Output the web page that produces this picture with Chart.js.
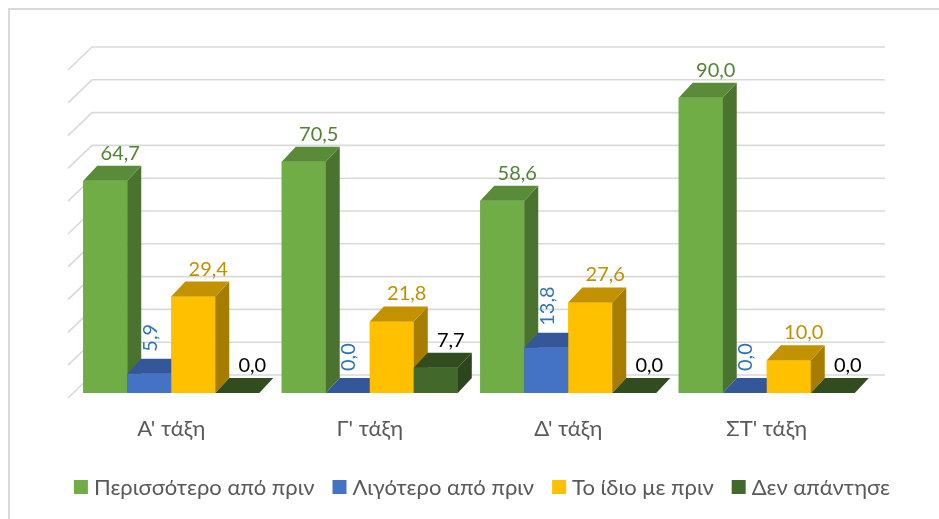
<!DOCTYPE html>
<html>
<head>
<meta charset="utf-8">
<script src="https://cdn.jsdelivr.net/npm/chart.js@4.4.1/dist/chart.umd.min.js"></script>
<style>
  body { margin: 0; background: #fff; }
  canvas { display: block; }
</style>
</head>
<body>
<canvas id="chart" width="939" height="519"></canvas>
<script>
// Τάξεις (κατηγορίες)
const categories = ["Α' τάξη", "Γ' τάξη", "Δ' τάξη", "ΣΤ' τάξη"];

// Τιμές σειρών (%)
const more = [64.7, 70.5, 58.6, 90.0];
const less = [5.9, 0.0, 13.8, 0.0];
const same = [29.4, 21.8, 27.6, 10.0];
const noAnswer = [0.0, 7.7, 0.0, 0.0];

const seriesNames = ['Περισσότερο από πριν', 'Λιγότερο από πριν', 'Το ίδιο με πριν', 'Δεν απάντησε'];

// Άξονας τιμών
const yTicks = [0, 10, 20, 30, 40, 50, 60, 70, 80, 90, 100];

// Χρώματα: μπροστά, πλάι, πάνω, ετικέτα
const frontColors = ['#70AD47', '#4472C4', '#FFC000', '#43682B'];
const sideColors  = ['#4B7330', '#2E4F8A', '#A67D00', '#2C451C'];
const topColors   = ['#5A8B38', '#34579A', '#C39200', '#314D1F'];
const labelColors = ['#548235', '#2E75B6', '#BF9000', '#000000'];
const rotatedLabel = [false, true, false, false];

const FONT = 'Lato, "Open Sans", sans-serif';
const DX = 14, DY = 15;           // βάθος μπάρας
const WALL_DX = 20, WALL_DY = 18; // πίσω τοίχος

function fmt(v) {
    return v.toFixed(1).replace('.', ',');
}

function poly(ctx, pts, color) {
    ctx.beginPath();
    ctx.moveTo(pts[0][0], pts[0][1]);
    for (let k = 1; k < pts.length; k++) ctx.lineTo(pts[k][0], pts[k][1]);
    ctx.closePath();
    ctx.fillStyle = color;
    ctx.fill();
}

const frame3d = {
    id: 'frame3d',
    beforeDraw(chart) {
        const ctx = chart.ctx;
        ctx.save();
        ctx.strokeStyle = '#D9D9D9';
        ctx.lineWidth = 2;
        ctx.strokeRect(9, 9, 940, 520);
        ctx.restore();
    },
    beforeDatasetsDraw(chart) {
        // Γραμμές πλέγματος στον πίσω τοίχο
        const ctx = chart.ctx;
        const area = chart.chartArea;
        const yScale = chart.scales.y;
        ctx.save();
        ctx.strokeStyle = '#D9D9D9';
        ctx.lineWidth = 1.6;
        for (const v of yTicks) {
            const yb = yScale.getPixelForValue(v) - WALL_DY;
            ctx.beginPath();
            ctx.moveTo(area.left - 4, yb + 23);
            ctx.lineTo(area.left + WALL_DX, yb);
            ctx.lineTo(area.right + 19, yb);
            ctx.stroke();
        }
        ctx.restore();
    },
    afterDatasetsDraw(chart) {
        const ctx = chart.ctx;
        const nSets = chart.data.datasets.length;
        ctx.save();
        // Μπάρες από αριστερά προς τα δεξιά, ώστε να καλύπτονται σωστά οι πλευρές
        for (let i = 0; i < categories.length; i++) {
            for (let d = 0; d < nSets; d++) {
                const el = chart.getDatasetMeta(d).data[i];
                const p = el.getProps(['x', 'y', 'base', 'width'], true);
                const l = p.x - p.width / 2, r = p.x + p.width / 2;
                ctx.fillStyle = frontColors[d];
                ctx.fillRect(l, p.y, p.width, p.base - p.y);
                poly(ctx, [[r, p.y], [r + DX, p.y - DY], [r + DX, p.base - DY], [r, p.base]], sideColors[d]);
                poly(ctx, [[l, p.y], [l + DX, p.y - DY], [r + DX, p.y - DY], [r, p.y]], topColors[d]);
            }
        }
        // Ετικέτες τιμών
        ctx.font = '20px ' + FONT;
        for (let i = 0; i < categories.length; i++) {
            for (let d = 0; d < nSets; d++) {
                const el = chart.getDatasetMeta(d).data[i];
                const p = el.getProps(['x', 'y'], true);
                const txt = fmt(chart.data.datasets[d].data[i]);
                ctx.fillStyle = labelColors[d];
                if (rotatedLabel[d]) {
                    ctx.save();
                    ctx.translate(p.x + 1, p.y - DY - 7);
                    ctx.rotate(-Math.PI / 2);
                    ctx.textAlign = 'left';
                    ctx.textBaseline = 'middle';
                    ctx.fillText(txt, 0, 0);
                    ctx.restore();
                } else {
                    ctx.textAlign = 'center';
                    ctx.textBaseline = 'alphabetic';
                    ctx.fillText(txt, p.x + DX + 1, p.y - DY - 6);
                }
            }
        }
        ctx.restore();
    },
    afterDraw(chart) {
        // Υπόμνημα σε μία γραμμή
        const ctx = chart.ctx;
        const box = 14, gapText = 6, gapItem = 18;
        ctx.save();
        ctx.font = '22px ' + FONT;
        ctx.textBaseline = 'middle';
        ctx.textAlign = 'left';
        const widths = seriesNames.map(s => ctx.measureText(s).width);
        const total = widths.reduce((a, w) => a + box + gapText + w, 0) + gapItem * (seriesNames.length - 1);
        let x = 482 - total / 2;
        const cy = 487;
        seriesNames.forEach((s, d) => {
            ctx.fillStyle = frontColors[d];
            ctx.fillRect(x, cy - box / 2, box, box);
            ctx.fillStyle = '#595959';
            ctx.fillText(s, x + box + gapText, cy + 1);
            x += box + gapText + widths[d] + gapItem;
        });
        ctx.restore();
    }
};

const datasets = [more, less, same, noAnswer].map((vals, d) => ({
    label: seriesNames[d],
    data: vals,
    backgroundColor: frontColors[d],
    borderWidth: 0
}));

new Chart(document.getElementById('chart'), {
    type: 'bar',
    data: { labels: categories, datasets: datasets },
    options: {
        responsive: false,
        animation: false,
        categoryPercentage: 0.887,
        barPercentage: 1.0,
        layout: { padding: { left: 72, right: 73, top: 65, bottom: 76 } },
        plugins: {
            legend: { display: false },
            tooltip: { enabled: false }
        },
        scales: {
            x: {
                grid: { display: false },
                border: { display: false },
                ticks: {
                    color: '#595959',
                    padding: 15,
                    font: { family: FONT, size: 22 }
                },
                afterFit(scale) { scale.height = 50; }
            },
            y: {
                display: false,
                min: 0,
                max: 100,
                ticks: { stepSize: 10 }
            }
        }
    },
    plugins: [frame3d]
});
</script>
</body>
</html>
